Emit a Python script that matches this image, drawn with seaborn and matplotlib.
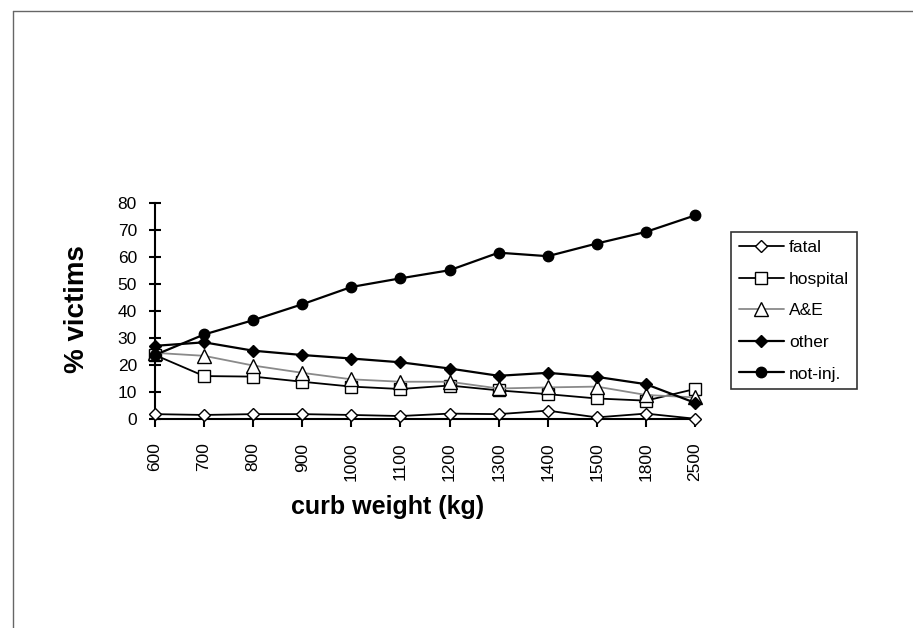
import matplotlib
matplotlib.use("Agg")
import matplotlib.pyplot as plt
from matplotlib.lines import Line2D
from matplotlib import font_manager as fm
import seaborn as sns
import pandas as pd

# ---- data ----
categories = ['600', '700', '800', '900', '1000', '1100', '1200', '1300', '1400', '1500', '1800', '2500']
fatal = [1.8, 1.5, 1.8, 1.8, 1.5, 1.1, 2.0, 1.8, 3.1, 0.6, 2.0, 0.1]
hospital = [23.7, 15.9, 15.7, 13.8, 12.0, 11.1, 12.4, 10.6, 9.2, 7.6, 6.8, 11.1]
ae = [24.5, 23.4, 19.8, 17.1, 14.7, 13.8, 13.8, 11.3, 11.7, 12.0, 8.9, 8.0]
other = [27.1, 28.4, 25.3, 23.7, 22.4, 21.0, 18.7, 16.0, 17.1, 15.6, 12.9, 6.0]
not_inj = [23.7, 31.3, 36.6, 42.5, 48.9, 52.1, 55.1, 61.6, 60.3, 65.0, 69.3, 75.4]
series_names = ['fatal', 'hospital', 'A&E', 'other', 'not-inj.']
y_ticks = [0, 10, 20, 30, 40, 50, 60, 70, 80]

sns.set_style("white")
names = {f.name for f in fm.fontManager.ttflist}
narrow = 'Liberation Sans Narrow' if 'Liberation Sans Narrow' in names else 'Liberation Sans'
plt.rcParams['font.family'] = ['Liberation Sans', 'DejaVu Sans']
plt.rcParams['text.color'] = 'black'
plt.rcParams['axes.labelcolor'] = 'black'
plt.rcParams['xtick.color'] = 'black'
plt.rcParams['ytick.color'] = 'black'

fig = plt.figure(figsize=(9.13, 6.28), dpi=100)
ax = fig.add_axes([155 / 913, 1 - 419 / 628, 540 / 913, 216 / 628])

styles = {
    'fatal':    dict(marker='D', markersize=6, markerfacecolor='white', markeredgecolor='black', color='black', linewidth=1.3, mew=1.0),
    'hospital': dict(marker='s', markersize=9, markerfacecolor='white', markeredgecolor='black', color='black', linewidth=1.3, mew=1.0),
    'A&E':      dict(marker='^', markersize=9.5, markerfacecolor='white', markeredgecolor='black', color='#8a8a8a', linewidth=1.3, mew=1.0),
    'other':    dict(marker='D', markersize=6.5, markerfacecolor='black', markeredgecolor='black', color='black', linewidth=1.6, mew=1.0),
    'not-inj.': dict(marker='o', markersize=7.5, markerfacecolor='black', markeredgecolor='black', color='black', linewidth=1.6, mew=1.0),
}
values = {'fatal': fatal, 'hospital': hospital, 'A&E': ae, 'other': other, 'not-inj.': not_inj}

for name in series_names:
    df = pd.DataFrame({'cat': categories, 'val': values[name]})
    sns.lineplot(data=df, x='cat', y='val', ax=ax, sort=False, label=name,
                 clip_on=False, zorder=3, **styles[name])

ax.set_xlim(0, len(categories) - 1)
ax.set_ylim(0, 80)
ax.set_yticks(y_ticks)
ax.set_yticklabels([str(t) for t in y_ticks], fontsize=12.5, family=narrow)
ax.set_xticks(range(len(categories)))
ax.set_xticklabels(categories, rotation=90, fontsize=12.5, family=narrow)

for s in ['top', 'right']:
    ax.spines[s].set_visible(False)
for s in ['left', 'bottom']:
    ax.spines[s].set_color('black')
    ax.spines[s].set_linewidth(1.5)
    ax.spines[s].set_zorder(2)

ax.tick_params(axis='y', left=True, direction='inout', length=8, width=1.5, pad=9, colors='black')
ax.tick_params(axis='x', bottom=True, direction='out', length=6, width=1.5, pad=11, colors='black')

ax.set_ylabel('% victims', fontsize=20, fontweight='bold', color='black')
ax.yaxis.set_label_coords((90 - 155) / 540, (419 - 309) / 216)
ax.set_xlabel('curb weight (kg)', fontsize=18, fontweight='bold', color='black')
ax.xaxis.set_label_coords((388 - 155) / 540, (419 - 495) / 216)

ax.get_legend().remove()
handles, labels = ax.get_legend_handles_labels()
leg = fig.legend(handles, labels, loc='upper left',
                 bbox_to_anchor=(731 / 913, 1 - 232 / 628),
                 frameon=True, fancybox=False, shadow=False,
                 fontsize=12.5, handlelength=2.6, handletextpad=0.3,
                 labelspacing=0.95, borderpad=0.45, borderaxespad=0)
leg.get_frame().set_edgecolor('black')
leg.get_frame().set_linewidth(1.2)
for t in leg.get_texts():
    t.set_family(narrow)
    t.set_color('black')

# page border (left and top)
fig.add_artist(Line2D([13 / 913, 13 / 913], [0, 1 - 11 / 628], color='#666666', linewidth=1))
fig.add_artist(Line2D([13 / 913, 1], [1 - 11 / 628, 1 - 11 / 628], color='#666666', linewidth=1))

fig.savefig('out.png', dpi=100)
